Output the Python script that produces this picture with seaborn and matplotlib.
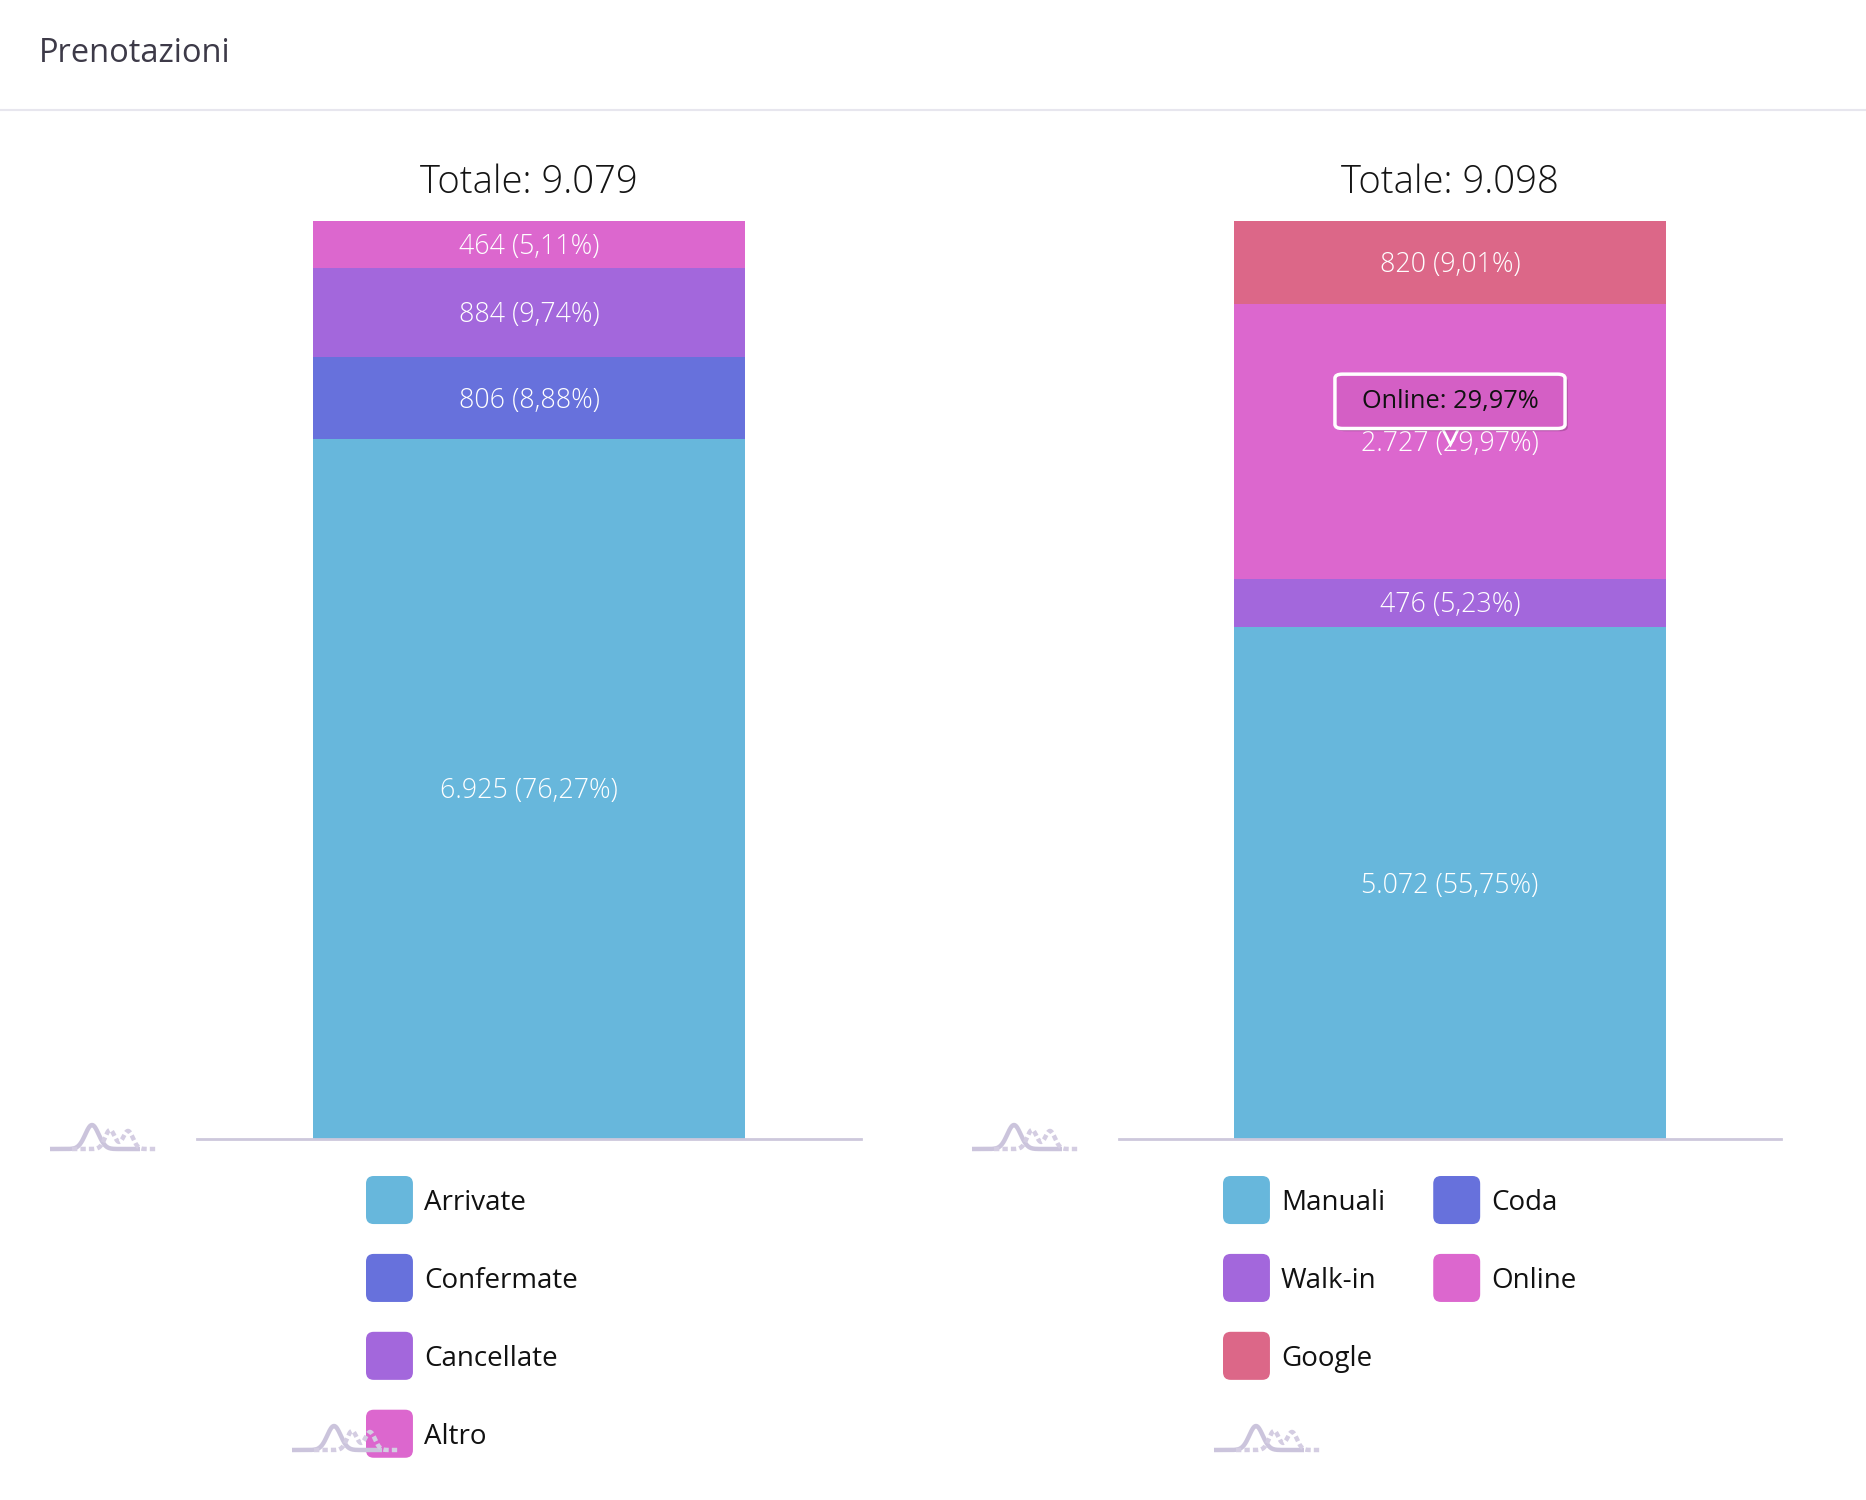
import numpy as np
import pandas as pd
import matplotlib
matplotlib.use("Agg")
import matplotlib.pyplot as plt
import matplotlib.transforms as mtransforms
import matplotlib.patheffects as pe
from matplotlib.patches import Patch, FancyBboxPatch
from matplotlib.legend_handler import HandlerPatch
import seaborn as sns

# ---------------- data ----------------
left_categories = ["Arrivate", "Confermate", "Cancellate", "Altro"]
left_values = [6925, 806, 884, 464]
left_colors = ["#67b7dc", "#6771dc", "#a367dc", "#dc67ce"]

right_categories = ["Manuali", "Coda", "Walk-in", "Online", "Google"]
right_values = [5072, 3, 476, 2727, 820]
right_colors = ["#67b7dc", "#6771dc", "#a367dc", "#dc67ce", "#dc6788"]

header_title = "Prenotazioni"
tooltip_category = "Online"

# ---------------- style ----------------
sns.set_theme(style="white")
plt.rcParams["font.family"] = ["Open Sans", "DejaVu Sans"]

W, H = 1866, 1500
fig = plt.figure(figsize=(W / 100, H / 100), dpi=100)
fig.patch.set_facecolor("white")


def fmt_int(v):
    return f"{v:,}".replace(",", ".")


def fmt_pct(v, total):
    return f"{100 * v / total:.2f}".replace(".", ",") + "%"


class RoundedHandler(HandlerPatch):
    def create_artists(self, legend, orig_handle, xdescent, ydescent,
                       width, height, fontsize, trans):
        side = legend.handleheight * fontsize
        y0 = 0.36 * fontsize - side / 2
        r = 0.16 * side
        p = FancyBboxPatch((-xdescent, y0), width, side,
                           boxstyle=f"round,pad=0,rounding_size={r}",
                           facecolor=orig_handle.get_facecolor(),
                           edgecolor="none", transform=trans)
        return [p]


def px_axes(x0, y0, x1, y1):
    return [x0 / W, 1 - y1 / H, (x1 - x0) / W, (y1 - y0) / H]


def draw_panel(ax, cats, vals, colors):
    total = sum(vals)
    cum = np.cumsum(vals)
    for i in reversed(range(len(cats))):
        df = pd.DataFrame({"panel": ["p"], "value": [cum[i]]})
        sns.barplot(data=df, x="panel", y="value", color=colors[i],
                    saturation=1, width=0.8, errorbar=None,
                    edgecolor="none", linewidth=0, ax=ax)
    ax.set_ylim(0, total)
    ax.set_xlim(-0.614, 0.614)
    for s in ["top", "left", "right"]:
        ax.spines[s].set_visible(False)
    ax.spines["bottom"].set_color("#cdc8dc")
    ax.spines["bottom"].set_linewidth(2)
    ax.set_xticks([])
    ax.set_yticks([])
    ax.set_xlabel("")
    ax.set_ylabel("")
    ax.patch.set_alpha(0)
    lab_tr = mtransforms.offset_copy(ax.transData, fig=fig, x=0, y=-2.5, units="dots")
    for i, v in enumerate(vals):
        if v / total >= 0.02:
            ax.text(0, cum[i] - v / 2, f"{fmt_int(v)} ({fmt_pct(v, total)})",
                    transform=lab_tr, ha="center", va="center", color="white",
                    fontsize=19.3, fontweight="light", zorder=5)
    ax.text(0.5, 1 + 28 / 918, f"Totale: {fmt_int(total)}",
            transform=ax.transAxes, ha="center", va="baseline",
            fontsize=27.5, fontweight="light", color="#141414")
    return total, cum


leg_kw = dict(loc="upper left", bbox_transform=fig.transFigure, frameon=False,
              fontsize=20, handlelength=1.69, handleheight=1.73,
              handletextpad=0.4, labelspacing=1.435, borderpad=0,
              borderaxespad=0, handler_map={Patch: RoundedHandler()},
              labelcolor="#111111")

# ---------------- left panel ----------------
axL = fig.add_axes(px_axes(197, 221, 861, 1139))
draw_panel(axL, left_categories, left_values, left_colors)
hL = [Patch(facecolor=c, label=l) for c, l in zip(left_colors, left_categories)]
axL.legend(handles=hL, bbox_to_anchor=(366 / W, 1 - 1182 / H), **leg_kw)

# ---------------- right panel ----------------
axR = fig.add_axes(px_axes(1119, 221, 1781, 1139))
totR, cumR = draw_panel(axR, right_categories, right_values, right_colors)
order = [0, 2, 4, 1, 3]  # row-major reading order in a 2-column legend
hR = [Patch(facecolor=right_colors[i], label=right_categories[i]) for i in order]
axR.legend(handles=hR, ncol=2, columnspacing=1.73,
           bbox_to_anchor=(1223 / W, 1 - 1182 / H), **leg_kw)

# tooltip on the Online segment
k = right_categories.index(tooltip_category)
yc = cumR[k] - right_values[k] / 2
tri_tr = mtransforms.offset_copy(axR.transData, fig=fig, x=0, y=5.0, units="dots")
axR.plot([0], [yc], marker="v", markersize=11, color="#d45fc5",
         markeredgecolor="white", markeredgewidth=2, transform=tri_tr,
         zorder=6)
box_tr = mtransforms.offset_copy(axR.transData, fig=fig, x=0, y=40.0, units="dots")
t = axR.text(0, yc, f"{tooltip_category}: {fmt_pct(right_values[k], totR)}",
             transform=box_tr, ha="center", va="center", fontsize=18.3,
             color="#111111", zorder=7,
             bbox=dict(boxstyle="round,pad=1.05,rounding_size=0.3",
                       fc="#d45fc5", ec="white", lw=2.5, mutation_aspect=0.55))
t.get_bbox_patch().set_path_effects([pe.withSimplePatchShadow(offset=(2, -2), alpha=0.25)])

# ---------------- page decorations ----------------
canvas = fig.add_axes([0, 0, 1, 1], zorder=10)
canvas.set_xlim(0, W)
canvas.set_ylim(H, 0)
canvas.axis("off")
canvas.patch.set_alpha(0)
canvas.text(39, 62, header_title, ha="left", va="baseline", fontsize=23.5,
            fontweight="medium", color="#3d3a48")
canvas.plot([0, W], [110, 110], color="#e7e6ee", lw=1.5)


def logo(x0, y0):
    xs = np.linspace(0, 90, 200)
    ys = 25 - 24 * np.exp(-((xs - 42) / 9.5) ** 2)
    canvas.plot(x0 + xs, y0 + ys, color="#cbc4dc", lw=3.2, solid_capstyle="butt")
    xd = np.linspace(22, 107, 200)
    yd = 25 - 19 * np.exp(-((xd - 60) / 7) ** 2) - 18 * np.exp(-((xd - 78) / 7) ** 2)
    canvas.plot(x0 + xd, y0 + yd, color="#d4cde2", lw=3.2, ls=(0, (1.2, 0.7)))


for (lx, ly) in [(50, 1124), (292, 1425), (972, 1124), (1214, 1425)]:
    logo(lx, ly)

fig.savefig("out.png", dpi=100, facecolor="white")
